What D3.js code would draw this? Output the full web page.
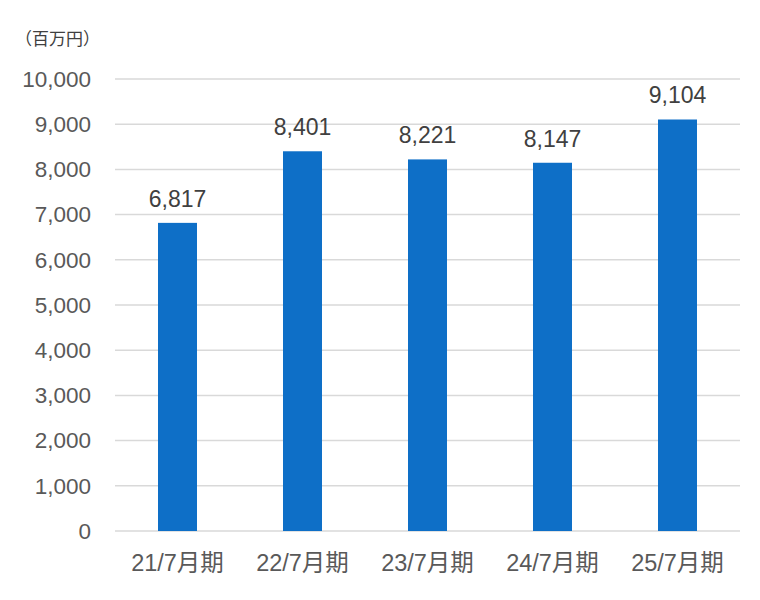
<!DOCTYPE html>
<html><head><meta charset="utf-8">
<script src="https://cdn.jsdelivr.net/npm/d3@7"></script>
<style>body{margin:0;background:#fff;}svg{display:block;}</style>
</head><body>
<script>
const categories = ["21/7月期","22/7月期","23/7月期","24/7月期","25/7月期"];
const values = [6817, 8401, 8221, 8147, 9104];
const tickValues = [0,1000,2000,3000,4000,5000,6000,7000,8000,9000,10000];
const unitLabel = "（百万円）";

const W = 760, H = 600;
const m = {left:115, right:20, top:79, bottom:69};
const svg = d3.select("body").append("svg").attr("width",W).attr("height",H);
const font = "'Liberation Sans','Noto Sans CJK JP',sans-serif";
const x = d3.scaleBand().domain(categories).range([m.left, W-m.right]).paddingInner(0.688).paddingOuter(0.344);
const y = d3.scaleLinear().domain([0,10000]).range([H-m.bottom, m.top]);

// grid
svg.append("g").selectAll("line").data(tickValues).join("line")
  .attr("x1",m.left).attr("x2",W-m.right)
  .attr("y1",d=>y(d)).attr("y2",d=>y(d))
  .attr("stroke","#d9d9d9").attr("stroke-width",1.5);

const yAxis = svg.append("g").attr("transform",`translate(${m.left},0)`)
  .call(d3.axisLeft(y).tickValues(tickValues).tickFormat(d3.format(",")).tickSize(0).tickPadding(24));
yAxis.select(".domain").remove();
yAxis.selectAll("text").attr("font-family",font).attr("font-size",22.5).attr("fill","#595959");

const xAxis = svg.append("g").attr("transform",`translate(0,${H-m.bottom})`)
  .call(d3.axisBottom(x).tickSize(0).tickPadding(23));
xAxis.select(".domain").remove();
xAxis.selectAll("text").attr("font-family",font).attr("font-size",23.5).attr("fill","#595959");

svg.append("g").selectAll("rect").data(values).join("rect")
  .attr("x",(d,i)=>x(categories[i])).attr("width",x.bandwidth())
  .attr("y",d=>y(d)).attr("height",d=>y(0)-y(d))
  .attr("fill","#0e6fc7");

svg.append("g").selectAll("text").data(values).join("text")
  .attr("x",(d,i)=>x(categories[i])+x.bandwidth()/2)
  .attr("y",d=>y(d)-16)
  .attr("text-anchor","middle")
  .attr("font-family",font).attr("font-size",23).attr("fill","#404040")
  .text(d=>d3.format(",")(d));

svg.append("text").attr("x",15).attr("y",45)
  .attr("font-family",font).attr("font-size",17).attr("fill","#404040")
  .text(unitLabel);
</script>
</body></html>
